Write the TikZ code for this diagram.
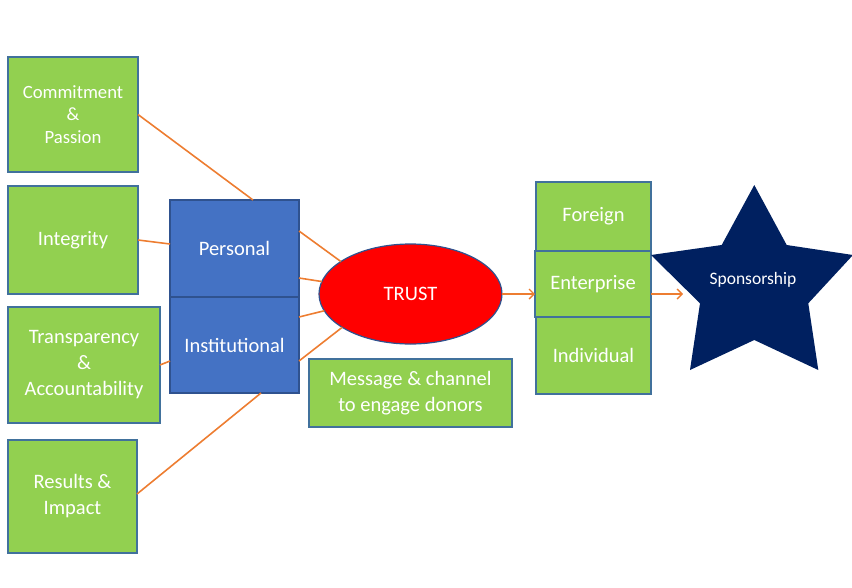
\documentclass[tikz,border=0pt]{standalone}
\usepackage{fontspec}
\setmainfont{Carlito}
\usetikzlibrary{arrows.meta,shapes.geometric}
\definecolor{leaf}{HTML}{92D050}
\definecolor{leafline}{HTML}{41719C}
\definecolor{royal}{HTML}{4472C4}
\definecolor{royalline}{HTML}{2F528F}
\definecolor{link}{HTML}{ED7D31}
\definecolor{navy}{HTML}{002060}
\begin{document}
\begin{tikzpicture}[x=1pt,y=-1pt,
  every node/.style={inner sep=0pt, outer sep=0pt},
  greenbox/.style={rectangle, draw=leafline, line width=1.2pt, fill=leaf,
    text=white, align=center, font=\fontsize{20.5}{26}\selectfont},
  bluebox/.style={rectangle, draw=royalline, line width=1.2pt, fill=royal,
    text=white, align=center, font=\fontsize{20.5}{26}\selectfont},
  wire/.style={draw=link, line width=1.6pt},
  arrowwire/.style={wire, -{Straight Barb[length=5pt,width=10pt,line width=1.4pt]}}]
\useasboundingbox (0,0) rectangle (852,587);

% left column: qualities
\node[greenbox, minimum width=130, minimum height=115,
  font=\fontsize{18.7}{22.5}\selectfont] (commit) at (73,114.5)
  {Commitment\\\&\\Passion};
\node[greenbox, minimum width=130, minimum height=108] (integrity) at (73,240) {Integrity};
\node[greenbox, minimum width=152, minimum height=116] (transp) at (84,365)
  {Transparency\\\&\\Accountability};
\node[greenbox, minimum width=129, minimum height=113] (results) at (72.5,496.5)
  {Results \&\\Impact};

% trust kinds
\node[bluebox, minimum width=129, minimum height=97] (personal) at (234.5,248.5) {Personal};
\node[bluebox, minimum width=129, minimum height=96] (institutional) at (234.5,345) {Institutional};

% trust
\node[ellipse, draw=royalline, line width=1.2pt, fill=red, text=white,
  minimum width=183, minimum height=100, font=\fontsize{20.5}{26}\selectfont]
  (trust) at (410.5,294) {TRUST};
\node[greenbox, minimum width=203, minimum height=68] (message) at (410.5,393)
  {Message \& channel\\to engage donors};

% donor types
\node[greenbox, minimum width=115, minimum height=69] (foreign) at (593.5,216.5) {Foreign};
\node[greenbox, minimum width=115, minimum height=77] (individual) at (593.5,355.5) {Individual};
\node[greenbox, minimum width=116, minimum height=66] (enterprise) at (593,284) {Enterprise};

% sponsorship star
\fill[navy] (754.3,185) -- (786.7,245) -- (853,255) -- (808.3,303.3) -- (818.3,370)
  -- (754.3,340) -- (690,370) -- (700,303.3) -- (651,255) -- (721.7,245) -- cycle;
\node[text=white, font=\fontsize{17.5}{21}\selectfont] (sponsor) at (753,280) {Sponsorship};
\coordinate (starin) at (683,294);

% links from qualities to trust kinds
\draw[wire] (commit.east) -- ([xshift=18.5pt]personal.north);
\draw[wire] (integrity.east) -- ([yshift=4.5pt]personal.west);
\draw[wire] (transp.east) -- ([yshift=-16pt]institutional.west);
\draw[wire] ([yshift=2.5pt]results.east) -- ([xshift=26.5pt]institutional.south);

% links from trust kinds to trust
\draw[wire] ([yshift=17.5pt]personal.east) -- (trust.155);
\draw[wire] ([yshift=-29.5pt]personal.east) -- (trust.172);
\draw[wire] ([yshift=28pt]institutional.east) -- (trust.191);
\draw[wire] ([yshift=-16pt]institutional.east) -- (trust.206);

% flow to sponsorship
\draw[arrowwire] (trust.east) -- ([yshift=-10pt]enterprise.west);
\draw[arrowwire] ([yshift=-10pt]enterprise.east) -- (starin);
\end{tikzpicture}
\end{document}
